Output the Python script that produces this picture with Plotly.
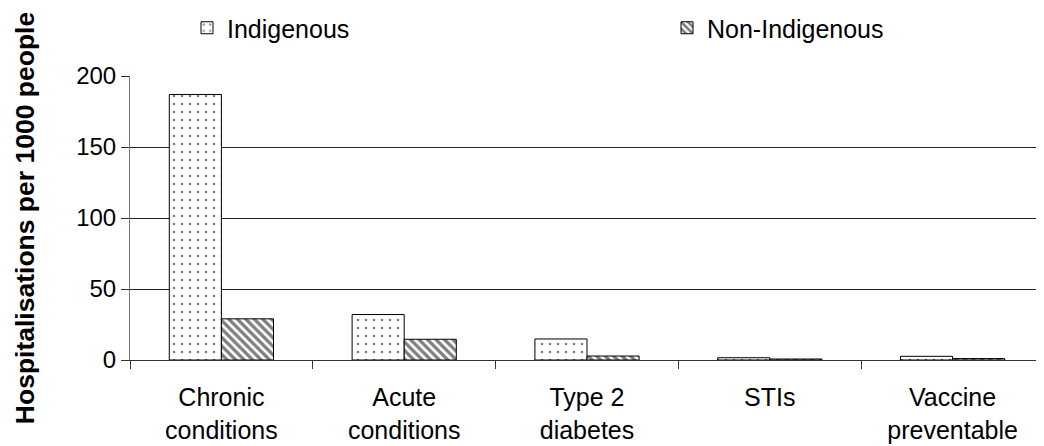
import plotly.graph_objects as go

categories = ["Chronic<br>conditions", "Acute<br>conditions", "Type 2<br>diabetes", "STIs", "Vaccine<br>preventable"]
indigenous = [187, 32, 14.8, 1.6, 2.6]
non_indigenous = [29, 14.6, 2.8, 0.7, 1.0]
y_ticks = [0, 50, 100, 150, 200]

FONT = "Liberation Sans, Arial, sans-serif"
W, H = 1036, 438  # page body adds an 8px margin

fig = go.Figure()
fig.add_trace(go.Bar(
    x=categories, y=indigenous, name="Indigenous", legend="legend",
    marker=dict(color="white", line=dict(color="black", width=1),
                pattern=dict(shape=".", fgcolor="black", bgcolor="white", size=8, solidity=0.09)),
))
fig.add_trace(go.Bar(
    x=categories, y=non_indigenous, name="Non-Indigenous", legend="legend2",
    marker=dict(color="white", line=dict(color="black", width=1),
                pattern=dict(shape="\\", fgcolor="black", bgcolor="white", size=6, solidity=0.55)),
))

leg_common = dict(orientation="h", xref="container", yref="container",
                  xanchor="left", yanchor="middle", y=1 - 20 / H,
                  font=dict(size=25), bgcolor="rgba(0,0,0,0)")

fig.update_layout(
    width=W, height=H,
    margin=dict(l=122, r=0, t=68, b=86, autoexpand=False),
    paper_bgcolor="white", plot_bgcolor="white",
    barmode="group", bargap=0.43, bargroupgap=0,
    font=dict(family=FONT, size=25, color="black"),
    showlegend=True,
    legend=dict(x=179 / W, **leg_common),
    legend2=dict(x=659 / W, **leg_common),
)
fig.update_xaxes(
    type="category", showline=True, linecolor="#333", linewidth=1,
    ticks="outside", tickson="boundaries", ticklen=8, tickcolor="#333",
    showgrid=False, tickfont=dict(size=25), fixedrange=True, ticklabelstandoff=15,
)
fig.update_yaxes(
    range=[0, 200], tickvals=y_ticks, showline=True, linecolor="#777", linewidth=1,
    ticks="outside", ticklen=8, tickcolor="#333",
    showgrid=True, gridcolor="#222", gridwidth=1, zeroline=False,
    tickfont=dict(size=24),
    title=dict(text="<b>Hospitalisations per 1000 people</b>", font=dict(size=26.5), standoff=33),
)

fig.write_html("out.html")
